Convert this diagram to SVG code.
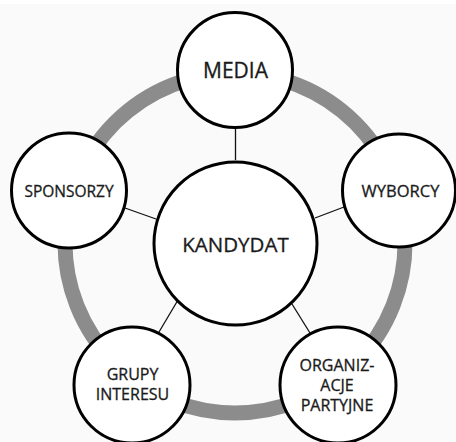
<svg xmlns="http://www.w3.org/2000/svg" width="456" height="442" viewBox="0 0 456 442">
<style>
.node{fill:#fff;stroke:#000;stroke-width:3}
.lbl{font-family:"Open Sans","Liberation Sans",sans-serif;fill:#1a1a1a;stroke:#1a1a1a;stroke-width:0.3;text-anchor:middle}
.conn line{stroke:#111;stroke-width:1.3}
</style>
<rect width="456" height="442" fill="#fff"/>
<rect y="4" width="456" height="438" fill="#fafafa"/>
<circle cx="235" cy="243" r="170" fill="none" stroke="#8c8c8c" stroke-width="15"/>
<g id="connectors" class="conn">
<line x1="235.5" y1="160" x2="235.5" y2="126"/>
<line x1="156" y1="219" x2="125" y2="208"/>
<line x1="315" y1="218" x2="344" y2="207"/>
<line x1="178" y1="300" x2="159" y2="332"/>
<line x1="292" y1="304" x2="310" y2="333"/>
</g>
<g id="kandydat"><circle class="node" cx="235.5" cy="243.5" r="81.5"/><text class="lbl" x="235.5" y="252" font-size="20.5">KANDYDAT</text></g>
<g id="media"><circle class="node" cx="235" cy="70" r="57.5"/><text class="lbl" x="235.5" y="78" font-size="21">MEDIA</text></g>
<g id="sponsorzy"><circle class="node" cx="69" cy="190.5" r="57.5"/><text class="lbl" x="69" y="197" font-size="15.5">SPONSORZY</text></g>
<g id="wyborcy"><circle class="node" cx="399" cy="190.5" r="56.5"/><text class="lbl" x="400.5" y="197" font-size="16.5">WYBORCY</text></g>
<g id="grupy"><circle class="node" cx="132" cy="385" r="58"/><text class="lbl" x="132.5" y="380" font-size="16">GRUPY</text><text class="lbl" x="132.5" y="400" font-size="16">INTERESU</text></g>
<g id="organizacje"><circle class="node" cx="338" cy="385" r="58"/><text class="lbl" x="337" y="371" font-size="16">ORGANIZ-</text><text class="lbl" x="337" y="391" font-size="16">ACJE</text><text class="lbl" x="337" y="411" font-size="16">PARTYJNE</text></g>
</svg>
